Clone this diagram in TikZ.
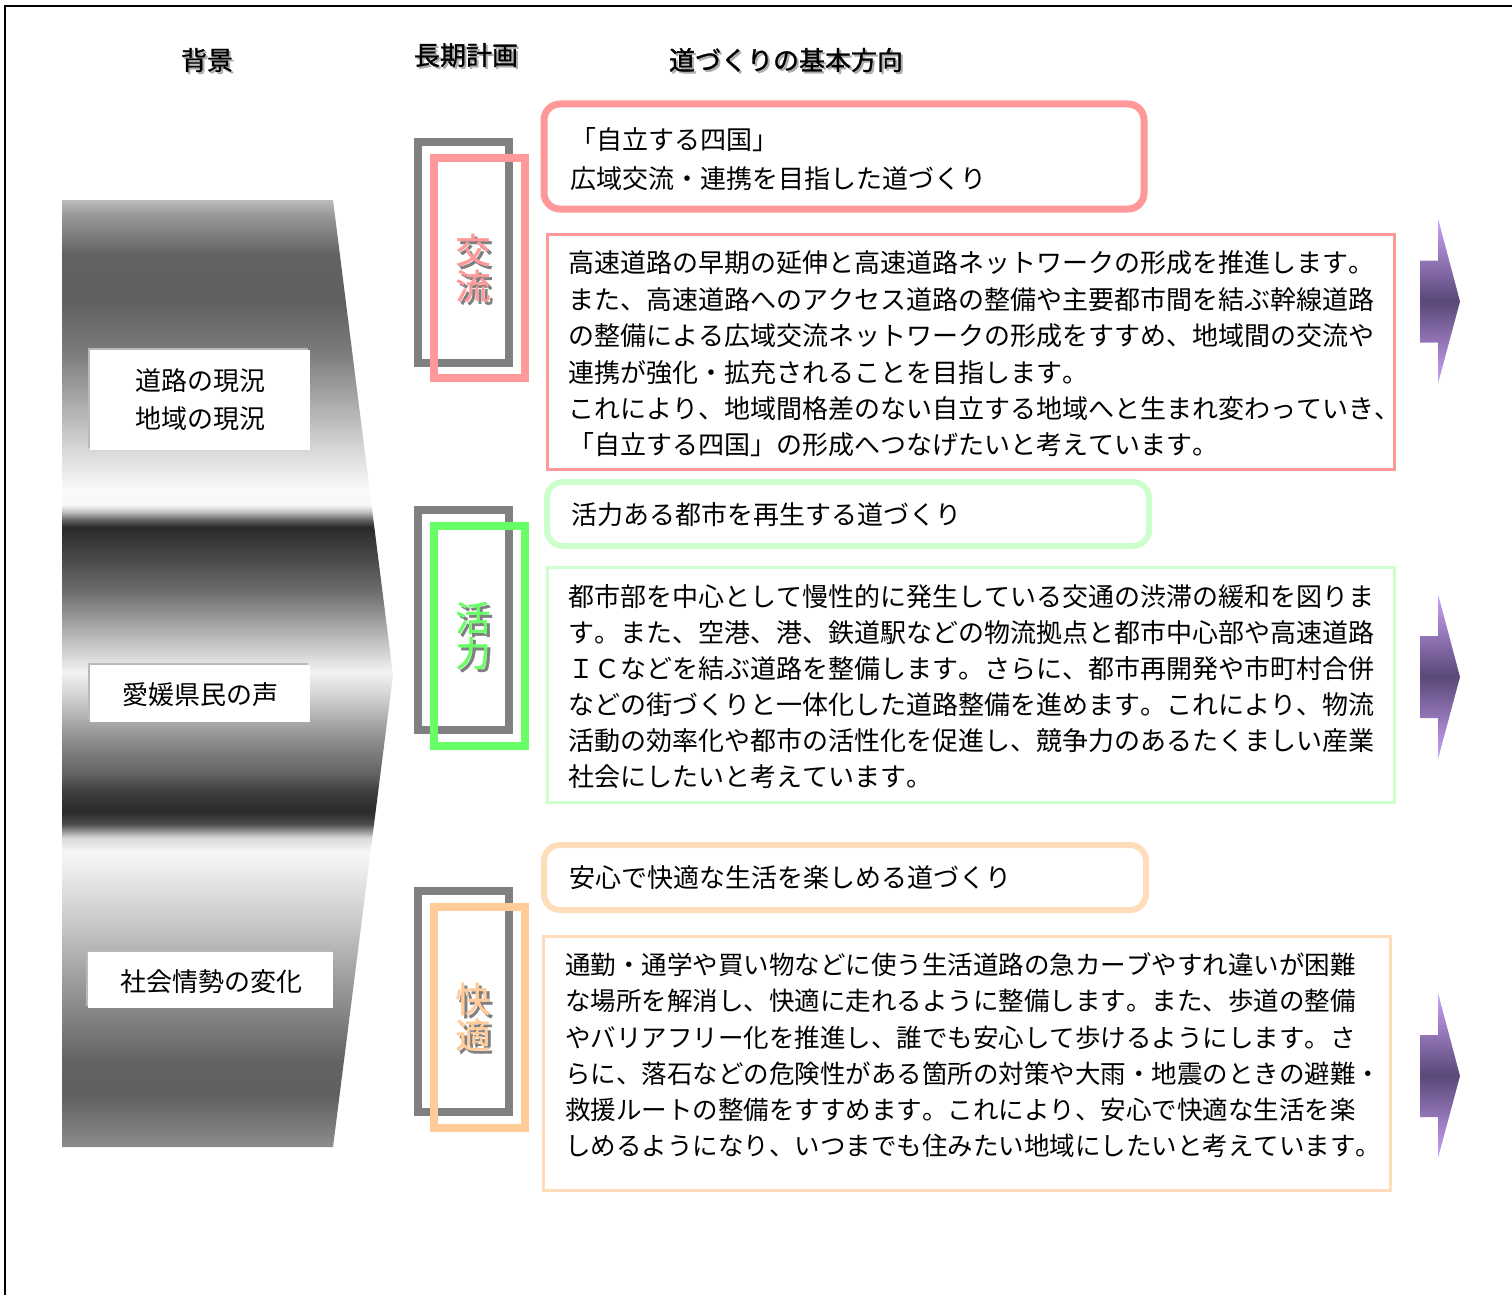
\documentclass[tikz,border=0pt]{standalone}
\usepackage{fontspec}
\setmainfont{Noto Sans CJK JP}[Kerning=Off]
\newfontfamily\jpbold{Noto Sans CJK JP}[FakeBold=1.2,Kerning=Off]
\definecolor{pinkc}{HTML}{FF9999}
\definecolor{greenc}{HTML}{66FF66}
\definecolor{orangec}{HTML}{FFCC99}
\definecolor{greenl}{HTML}{CCFFCC}
\definecolor{orangel}{HTML}{FFDCBA}
\definecolor{grayr}{HTML}{808080}
\definecolor{purpL}{HTML}{CBA4F7}
\definecolor{purpD}{HTML}{5A4878}
\pgfdeclareverticalshading{chevshade}{100bp}{%
rgb(0bp)=(0.55,0.55,0.55);
rgb(25bp)=(0.55,0.55,0.55);
rgb(27.75bp)=(0.376,0.376,0.376);
rgb(29.59bp)=(0.39,0.39,0.39);
rgb(33.55bp)=(0.60,0.60,0.60);
rgb(37.51bp)=(0.82,0.82,0.82);
rgb(40.58bp)=(0.97,0.97,0.97);
rgb(41.32bp)=(0.85,0.85,0.85);
rgb(42.05bp)=(0.30,0.30,0.30);
rgb(42.69bp)=(0.165,0.165,0.165);
rgb(43.85bp)=(0.25,0.25,0.25);
rgb(44.64bp)=(0.38,0.38,0.38);
rgb(46.49bp)=(0.55,0.55,0.55);
rgb(48.60bp)=(0.80,0.80,0.80);
rgb(50.08bp)=(0.95,0.95,0.95);
rgb(52.30bp)=(0.68,0.68,0.68);
rgb(54.41bp)=(0.42,0.42,0.42);
rgb(56.15bp)=(0.28,0.28,0.28);
rgb(57.74bp)=(0.165,0.165,0.165);
rgb(58.10bp)=(0.38,0.38,0.38);
rgb(58.53bp)=(0.75,0.75,0.75);
rgb(58.90bp)=(0.97,0.97,0.97);
rgb(59.69bp)=(0.98,0.98,0.98);
rgb(61.80bp)=(0.847,0.847,0.847);
rgb(64.44bp)=(0.659,0.659,0.659);
rgb(67.08bp)=(0.478,0.478,0.478);
rgb(69.72bp)=(0.376,0.376,0.376);
rgb(72.10bp)=(0.384,0.384,0.384);
rgb(74.21bp)=(0.60,0.60,0.60);
rgb(75bp)=(0.737,0.737,0.737);
rgb(100bp)=(0.737,0.737,0.737)}
\tikzset{
  txt/.style={inner sep=0pt, outer sep=0pt, anchor=west, text height=22.9pt, text depth=3.1pt,
    font=\fontsize{26pt}{30pt}\selectfont},
  txtsm/.style={txt, text height=22.4pt, text depth=3.1pt,
    font=\fontsize{25.5pt}{30pt}\selectfont},
  lbl/.style={txt, anchor=center},
  hdr/.style={lbl, font=\jpbold\fontsize{26pt}{30pt}\selectfont},
  vlab/.style={inner sep=0pt, anchor=center, text height=30.8pt, text depth=4.2pt,
    font=\jpbold\fontsize{35pt}{36pt}\selectfont},
  titlebox/.style={line width=7pt, rounded corners=16pt},
  bodybox/.style={line width=3pt},
  framebox/.style={line width=8pt},
  purparrow/.style={top color=purpL, bottom color=purpL, middle color=purpD},
}
\newcommand{\purpArrow}[1]{%
  \path[purparrow] (1420,#1-41) -- (1438,#1-41) -- (1438,#1-83) -- (1460,#1)
    -- (1438,#1+82) -- (1438,#1+41) -- (1420,#1+41) -- cycle;}
\begin{document}
\begin{tikzpicture}[x=1pt,y=-1pt]
\useasboundingbox (0,0) rectangle (1512,1295);
\fill[white] (0,0) rectangle (1512,1295);
% frame
\draw[line width=2pt] (5,1295) -- (5,6) -- (1512,6);

% headers
\node[hdr, text=gray!65] at (209,62) {背景};
\node[hdr] (hBack) at (207,60) {背景};
\node[hdr, text=gray!65] at (468,57) {長期計画};
\node[hdr] (hPlan) at (466,55) {長期計画};
\node[hdr, text=gray!65] at (788,62) {道づくりの基本方向};
\node[hdr] (hDir) at (786,60) {道づくりの基本方向};

% left chevron
\path[shading=chevshade] (62,200) -- (333,200) -- (393,675) -- (333,1147) -- (62,1147) -- cycle;
\fill[gray!55] (88,348) rectangle (308,448);
\fill[white] (90,350) rectangle (310,450);
\node[lbl] (lRoad) at (200,381) {道路の現況};
\node[lbl] (lArea) at (200,419) {地域の現況};
\fill[gray!55] (88,663) rectangle (308,720);
\fill[white] (90,665) rectangle (310,722);
\node[lbl] (lVoice) at (200,695) {愛媛県民の声};
\fill[gray!55] (86,950) rectangle (331,1006);
\fill[white] (88,952) rectangle (333,1008);
\node[lbl] (lSoc) at (211,982) {社会情勢の変化};

% long-term plan frames
\draw[framebox, grayr] (418,142) rectangle (509,363);
\draw[framebox, pinkc] (434,158) rectangle (525,378);
\node[vlab, text=grayr] at (476,253) {交};
\node[vlab, text=grayr] at (476,289) {流};
\node[vlab, text=pinkc] (vK1) at (473,250) {交};
\node[vlab, text=pinkc] (vK2) at (473,286) {流};

\draw[framebox, grayr] (418,510) rectangle (509,730);
\draw[framebox, greenc] (434,526) rectangle (525,746);
\node[vlab, text=grayr] at (476,621) {活};
\node[vlab, text=grayr] at (476,656) {力};
\node[vlab, text=greenc] (vA1) at (473,618) {活};
\node[vlab, text=greenc] (vA2) at (473,653) {力};

\draw[framebox, grayr] (418,891) rectangle (509,1112);
\draw[framebox, orangec] (434,907) rectangle (525,1128);
\node[vlab, text=grayr] at (476,1002) {快};
\node[vlab, text=grayr] at (476,1038) {適};
\node[vlab, text=orangec] (vC1) at (473,999) {快};
\node[vlab, text=orangec] (vC2) at (473,1035) {適};

% title boxes
\draw[titlebox, pinkc] (544,104) rectangle (1144,209);
\node[txt] (tP1) at (570,140) {「自立する四国」};
\node[txt] (tP2) at (570,179) {広域交流・連携を目指した道づくり};
\draw[titlebox, greenl, line width=6pt] (547,482) rectangle (1149,546);
\node[txt] (tG) at (571,515) {活力ある都市を再生する道づくり};
\draw[titlebox, orangel, line width=6pt] (544,845) rectangle (1146,910);
\node[txt] (tO) at (569,878) {安心で快適な生活を楽しめる道づくり};

% body boxes
\draw[bodybox, pinkc] (547.5,234.5) rectangle (1394.5,469.5);
\foreach \ln [count=\i] in {高速道路の早期の延伸と高速道路ネットワークの形成を推進します。,
 また、高速道路へのアクセス道路の整備や主要都市間を結ぶ幹線道路,
 の整備による広域交流ネットワークの形成をすすめ、地域間の交流や,
 連携が強化・拡充されることを目指します。,
 これにより、地域間格差のない自立する地域へと生まれ変わっていき、,
 「自立する四国」の形成へつなげたいと考えています。}
 \node[txt] (bP\i) at (568,{263+(\i-1)*36.4}) {\ln};

\draw[bodybox, greenl] (547.5,567.5) rectangle (1394.5,802.5);
\foreach \ln [count=\i] in {都市部を中心として慢性的に発生している交通の渋滞の緩和を図りま,
 す。また、空港、港、鉄道駅などの物流拠点と都市中心部や高速道路,
 ＩＣなどを結ぶ道路を整備します。さらに、都市再開発や市町村合併,
 などの街づくりと一体化した道路整備を進めます。これにより、物流,
 活動の効率化や都市の活性化を促進し、競争力のあるたくましい産業,
 社会にしたいと考えています。}
 \node[txt] (bG\i) at (568,{597+(\i-1)*36}) {\ln};

\draw[bodybox, orangel] (543.5,936.5) rectangle (1390.5,1190.5);
\foreach \ln [count=\i] in {通勤・通学や買い物などに使う生活道路の急カーブやすれ違いが困難,
 な場所を解消し、快適に走れるように整備します。また、歩道の整備,
 やバリアフリー化を推進し、誰でも安心して歩けるようにします。さ,
 らに、落石などの危険性がある箇所の対策や大雨・地震のときの避難・,
 救援ルートの整備をすすめます。これにより、安心で快適な生活を楽,
 しめるようになり、いつまでも住みたい地域にしたいと考えています。}
 \node[txtsm] (bO\i) at (565,{965+(\i-1)*36.2}) {\ln};

% purple arrows
\purpArrow{301.5}
\purpArrow{677}
\purpArrow{1076}
\end{tikzpicture}
\end{document}
